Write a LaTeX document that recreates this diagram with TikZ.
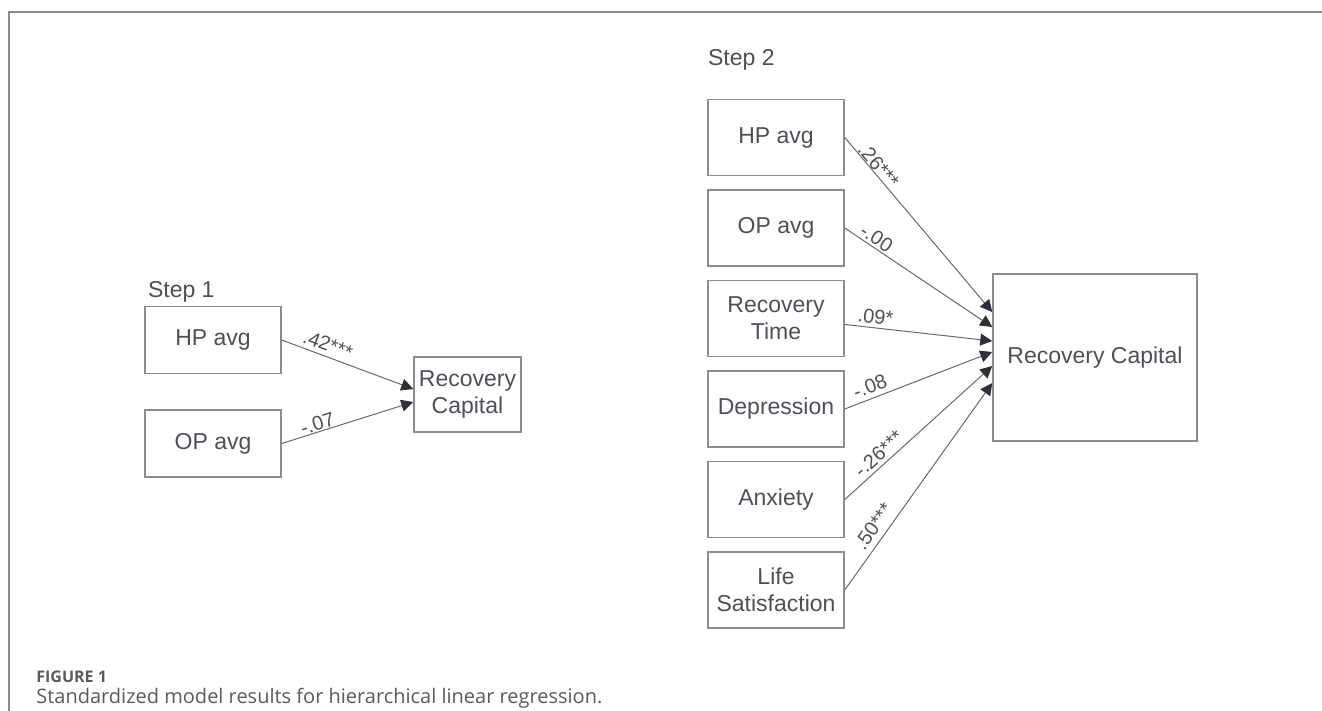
\documentclass[tikz,border=0pt]{standalone}
\usepackage{fontspec}
\setmainfont{Liberation Sans}
\newfontfamily\capfont{Open Sans}
\usetikzlibrary{positioning,arrows.meta}

\definecolor{txtgray}{HTML}{4D5058}
\definecolor{boxgray}{HTML}{8C8C8C}
\definecolor{linegray}{HTML}{6A6A6A}
\definecolor{tipdark}{HTML}{2E3139}
\definecolor{capgray}{HTML}{5A5A5A}

\begin{document}
\begin{tikzpicture}[x=0.5pt,y=-0.5pt,
    every node/.style={text=txtgray,font=\fontsize{11.5}{13.5}\selectfont},
    var/.style={draw=boxgray,line width=0.75pt,minimum width=68pt,minimum height=38pt,align=center,inner sep=2pt},
    effect/.style={draw=linegray,line width=0.5pt,-{Triangle[length=6pt,width=6pt,color=tipdark]}},
    coef/.style={font=\fontsize{10}{11}\selectfont,sloped,above,inner sep=1.8pt}]
    \useasboundingbox (0,0) rectangle (1322,711);
    \draw[boxgray,line width=0.6pt] (9,711) -- (9,12) -- (1322,12);

    % step 1
    \node[anchor=west] (step1) at (141,292) {Step 1};
    \node[var,minimum height=33.5pt] (hp1) at (213,340) {HP avg};
    \node[var,minimum height=33.5pt,below=17.5pt of hp1] (op1) {OP avg};
    \node[var,minimum width=53.5pt,minimum height=37.5pt] (rc1) at (467.5,394.5) {Recovery\\Capital};

    \draw[effect] (hp1.east) -- ([yshift=2.75pt]rc1.west) node[coef,pos=0.32,inner sep=2.2pt] {.42***};
    \draw[effect] (op1.east) -- ([yshift=-3.75pt]rc1.west) node[coef,pos=0.29,inner sep=0.4pt] {-.07};

    % step 2
    \node[anchor=west] (step2) at (701,60) {Step 2};
    \node[var] (hp2) at (776,137.5) {HP avg};
    \node[var,below=6.5pt of hp2] (op2) {OP avg};
    \node[var,below=6.5pt of op2] (rt2) {Recovery\\Time};
    \node[var,below=6.5pt of rt2] (dep2) {Depression};
    \node[var,below=6.5pt of dep2] (anx2) {Anxiety};
    \node[var,below=6.5pt of anx2] (ls2) {Life\\Satisfaction};
    \node[var,minimum width=102pt,minimum height=83.5pt] (rc2) at (1095,357.5) {Recovery Capital};

    \draw[effect] (hp2.east) -- ([yshift=22.75pt]rc2.west) node[coef,pos=0.19,inner sep=0pt] {.26***};
    \draw[effect] (op2.east) -- ([yshift=15.25pt]rc2.west) node[coef,pos=0.18,inner sep=0.9pt] {-.00};
    \draw[effect] ([yshift=-3pt]rt2.east) -- ([yshift=8.25pt]rc2.west) node[coef,pos=0.2] {.09*};
    \draw[effect] (dep2.east) -- ([yshift=2.75pt]rc2.west) node[coef,pos=0.2,inner sep=2.1pt] {-.08};
    \draw[effect] (anx2.east) -- ([yshift=-4.25pt]rc2.west) node[coef,pos=0.28] {-.26***};
    \draw[effect] (ls2.east) -- ([yshift=-12.75pt]rc2.west) node[coef,pos=0.27,inner sep=3pt] {.50***};

    % caption
    \node[anchor=base west,inner sep=0pt,text=capgray,font=\capfont\fontsize{8}{10}\selectfont\bfseries] (fig) at (36,682) {FIGURE 1};
    \node[anchor=base west,inner sep=0pt,text=capgray,font=\capfont\fontsize{10}{12}\selectfont] (cap) at (36,703) {Standardized model results for hierarchical linear regression.};
\end{tikzpicture}
\end{document}
